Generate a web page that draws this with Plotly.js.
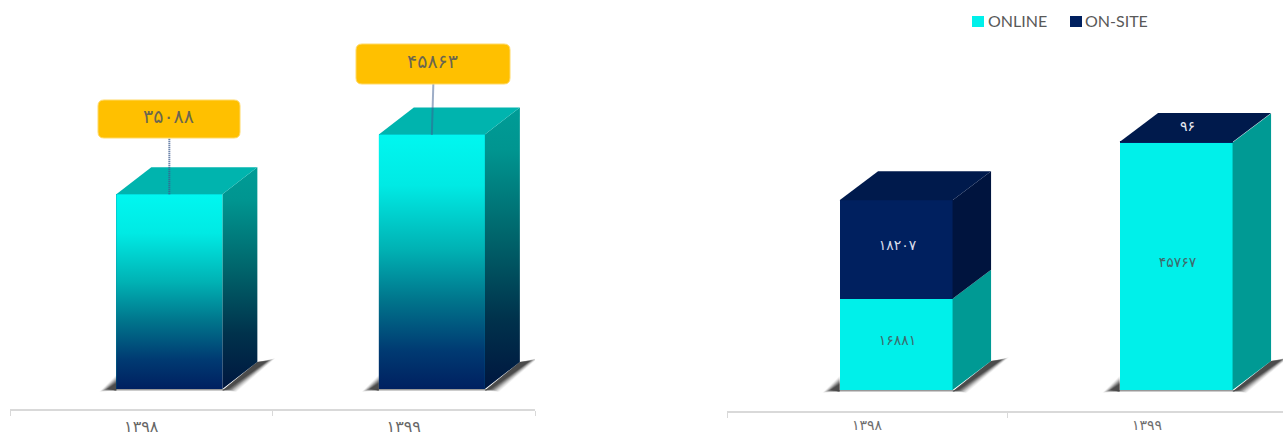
<!DOCTYPE html>
<html>
<head>
<meta charset="utf-8">
<script src="https://cdn.plot.ly/plotly-3.0.1.min.js"></script>
<style>html,body{margin:0;padding:0;background:#fff}#c{width:1283px;height:436px}</style>
</head>
<body>
<div id="c"></div>
<script>
const categories = ['۱۳۹۸', '۱۳۹۹'];
const totals = [35088, 45863];
const online = [16881, 45767];
const onsite = [18207, 96];
const seriesNames = ['ONLINE', 'ON-SITE'];

const W = 1283, H = 436;
const FA = '"DejaVu Sans", "Noto Sans", sans-serif';
const LATIN = 'Lato, "Open Sans", sans-serif';
const fa = n => String(n).replace(/\d/g, d => '۰۱۲۳۴۵۶۷۸۹'[+d]);
const px = x => x / W, py = y => 1 - y / H;

const LEFT = {xa: 'x', ya: 'y', xaxis: 'xaxis', yaxis: 'yaxis', x0: 10, x1: 535, catW: 262.5, top: 30, axisY: 409, baseY: 389, k: 0.00555, off: -0.095, w: 0.404, dx: 35, dy: 27};
const RIGHT = {xa: 'x2', ya: 'y2', xaxis: 'xaxis2', yaxis: 'yaxis2', x0: 727, x1: 1283, catW: 280, top: 30, axisY: 411, baseY: 390, k: 0.00541, off: -0.098, w: 0.4036, dx: 38.5, dy: 29};
[LEFT, RIGHT].forEach(p => {
  p.ux = 1 / p.catW; p.uy = 1 / p.k;
  p.depthX = p.dx * p.ux; p.depthY = p.dy * p.uy;
});

const traces = [];
function poly(p, xs, ys, style) {
  traces.push(Object.assign({type: 'scatter', mode: 'lines', x: xs.concat(xs[0]), y: ys.concat(ys[0]), xaxis: p.xa, yaxis: p.ya, fill: 'toself', line: {width: 0}, hoverinfo: 'skip', showlegend: false}, style));
}
function shadow(p, i) {
  const l = i + p.off, r = l + p.w, u = p.ux, v = p.uy;
  // soft contact shadow: nested translucent polygons
  [[5, 0.05], [4, 0.07], [3, 0.09], [2, 0.12], [1, 0.15], [0, 0.18], [-1, 0.22], [-2, 0.25], [-3, 0.28]].forEach(([g, a]) => {
    const c = `rgba(30,30,30,${a})`;
    poly(p,
      [l - (12 + g) * u, l, l],
      [-(1 + g * 0.35) * v, -1.5 * v, (9 + g) * v],
      {fillcolor: c});
    poly(p,
      [r, r + p.depthX, r + p.depthX + (13 + g) * u, r + (9 + g) * u],
      [-1.5 * v, p.depthY, p.depthY + (2 + g * 0.35) * v, -(1 + g * 0.35) * v],
      {fillcolor: c});
  });
  poly(p, [l - 2 * u, r + 2 * u, r + 2 * u, l - 2 * u], [-1.6 * v, -1.6 * v, 0, 0], {fillcolor: 'rgba(70,70,70,0.55)'});
}
function sideFace(p, i, from, to, style) {
  const r = i + p.off + p.w, d = p.depthX, e = p.depthY;
  poly(p, [r, r + d, r + d, r], [from, from + e, to + e, to], style);
}
function topFace(p, i, v, color) {
  const l = i + p.off, r = l + p.w, d = p.depthX, e = p.depthY;
  poly(p, [l, r, r + d, l + d], [v, v, v + e, v + e], {fillcolor: color});
}

/* left panel */
traces.push({type: 'bar', x: [0, 1], y: totals, xaxis: 'x', yaxis: 'y', width: LEFT.w, offset: LEFT.off, marker: {color: '#0087a0'}, hoverinfo: 'x+y', showlegend: false});
totals.forEach((v, i) => {
  shadow(LEFT, i);
  sideFace(LEFT, i, 0, v, {fillgradient: {type: 'vertical', colorscale: [[0, '#00163f'], [0.25, '#00324c'], [0.55, '#00666c'], [0.85, '#009590'], [1, '#009c96']]}});
  topFace(LEFT, i, v, '#00b4ae');
  const l = i + LEFT.off, r = l + LEFT.w;
  poly(LEFT, [l, r, r, l], [0, 0, v, v], {fillgradient: {type: 'vertical', colorscale: [[0, '#002060'], [0.15, '#003a72'], [0.35, '#00758c'], [0.55, '#00b2b4'], [0.8, '#00eae4'], [1, '#00f7f0']]}});
});
// leader lines from bar tops to the callouts
const leaderTop = [138, 84];
const leaderDx = [0, 1.5];
totals.forEach((v, i) => {
  const cx = i + LEFT.off + LEFT.w / 2;
  traces.push({type: 'scatter', mode: 'lines', xaxis: 'x', yaxis: 'y', x: [cx, cx + leaderDx[i] * LEFT.ux], y: [v, (LEFT.baseY - leaderTop[i]) * LEFT.uy], line: {color: '#3d5c8f', width: 2, dash: '1px,1px'}, hoverinfo: 'skip', showlegend: false});
});

/* right panel */
traces.push({type: 'bar', name: seriesNames[0], x: [0, 1], y: online, xaxis: 'x2', yaxis: 'y2', width: RIGHT.w, offset: RIGHT.off, marker: {color: '#00f0ea'}, hoverinfo: 'x+y+name', showlegend: false});
traces.push({type: 'bar', name: seriesNames[1], x: [0, 1], y: onsite, xaxis: 'x2', yaxis: 'y2', width: RIGHT.w, offset: RIGHT.off, marker: {color: '#00205f'}, hoverinfo: 'x+y+name', showlegend: false});
online.forEach((v, i) => {
  shadow(RIGHT, i);
  sideFace(RIGHT, i, 0, v, {fillcolor: '#009a94'});
  sideFace(RIGHT, i, v, v + onsite[i], {fillcolor: '#00143e'});
  topFace(RIGHT, i, v + onsite[i], '#001a4c');
});
const labelX = i => i + RIGHT.off + RIGHT.w / 2 + 1.5 * RIGHT.ux;
const labelLift = 3 * RIGHT.uy;
traces.push({type: 'scatter', mode: 'text', xaxis: 'x2', yaxis: 'y2', x: [labelX(0), labelX(1)], y: online.map(v => v / 2 + labelLift), text: online.map(fa), textfont: {family: FA, size: 14, color: '#3f6a6c'}, hoverinfo: 'skip', showlegend: false});
traces.push({type: 'scatter', mode: 'text', xaxis: 'x2', yaxis: 'y2', x: [labelX(0)], y: [online[0] + onsite[0] / 2 + labelLift], text: [fa(onsite[0])], textfont: {family: FA, size: 14, color: '#d8dcea'}, hoverinfo: 'skip', showlegend: false});
traces.push({type: 'scatter', mode: 'text', xaxis: 'x2', yaxis: 'y2', x: [1 + RIGHT.off + RIGHT.w / 2 + RIGHT.depthX * 0.3], y: [online[1] + onsite[1] + RIGHT.depthY * 0.5], text: [fa(onsite[1])], textfont: {family: FA, size: 14, color: '#e8eaf2'}, hoverinfo: 'skip', showlegend: false});

function roundRect(x0, y0, x1, y1, r) {
  const X = a => px(a), Y = a => py(a);
  return `M${X(x0 + r)},${Y(y0)} L${X(x1 - r)},${Y(y0)} Q${X(x1)},${Y(y0)} ${X(x1)},${Y(y0 + r)} L${X(x1)},${Y(y1 - r)} Q${X(x1)},${Y(y1)} ${X(x1 - r)},${Y(y1)} L${X(x0 + r)},${Y(y1)} Q${X(x0)},${Y(y1)} ${X(x0)},${Y(y1 - r)} L${X(x0)},${Y(y0 + r)} Q${X(x0)},${Y(y0)} ${X(x0 + r)},${Y(y0)} Z`;
}
const boxes = [[98, 100, 240, 138], [356, 44, 510, 84]];
const shapes = boxes.map(b => ({type: 'path', xref: 'paper', yref: 'paper', path: roundRect(b[0], b[1], b[2], b[3], 6), fillcolor: '#ffc000', line: {color: '#ffd966', width: 1}, layer: 'above'}));
const annotations = boxes.map((b, i) => ({xref: 'paper', yref: 'paper', x: px((b[0] + b[2]) / 2 - 0.5), y: py((b[1] + b[3]) / 2 - 3), xanchor: 'center', yanchor: 'middle', showarrow: false, text: fa(totals[i]), font: {family: FA, size: 19, color: '#6a6650'}}));

/* legend */
const legendItems = [[972, 988, '#00f0ea'], [1070, 1085, '#00205f']];
legendItems.forEach((it, i) => {
  shapes.push({type: 'rect', xref: 'paper', yref: 'paper', x0: px(it[0]), x1: px(it[0] + 12), y0: py(27), y1: py(16), fillcolor: it[2], line: {width: 0}});
  annotations.push({xref: 'paper', yref: 'paper', x: px(it[1] - 2), y: py(21), xanchor: 'left', yanchor: 'middle', showarrow: false, text: seriesNames[i], font: {family: LATIN, size: 16, color: '#595959'}});
});

function xAxis(p, size, standoff, color) {
  const r0 = -0.5, r1 = -0.5 + (p.x1 - p.x0) / p.catW;
  return {type: 'linear', domain: [px(p.x0), px(p.x1)], range: [r0, r1], anchor: p.ya, fixedrange: true, showgrid: false, zeroline: false, showline: true, linecolor: '#d9d9d9', linewidth: 1.5,
    tickmode: 'array', tickvals: [0, 1], ticktext: categories, ticks: '', ticklabelstandoff: standoff, tickfont: {family: FA, size: size, color: color},
    minor: {tickmode: 'array', tickvals: [-0.5, 0.5, 1.5], ticks: 'outside', ticklen: 5, tickwidth: 1, tickcolor: '#d9d9d9', showgrid: false}};
}
function yAxis(p) {
  return {domain: [py(p.axisY), py(p.top)], range: [(p.baseY - p.axisY) * p.uy, (p.baseY - p.top) * p.uy], anchor: p.xa, visible: false, fixedrange: true};
}

const layout = {
  width: W, height: H, margin: {l: 0, r: 0, t: 0, b: 0}, paper_bgcolor: '#fff', plot_bgcolor: '#fff',
  barmode: 'stack', showlegend: false,
  xaxis: xAxis(LEFT, 16, 2, '#666666'), yaxis: yAxis(LEFT), xaxis2: xAxis(RIGHT, 14, 0, '#6e6e6e'), yaxis2: yAxis(RIGHT),
  shapes, annotations
};
Plotly.newPlot('c', traces, layout, {displayModeBar: false});
</script>
</body>
</html>
